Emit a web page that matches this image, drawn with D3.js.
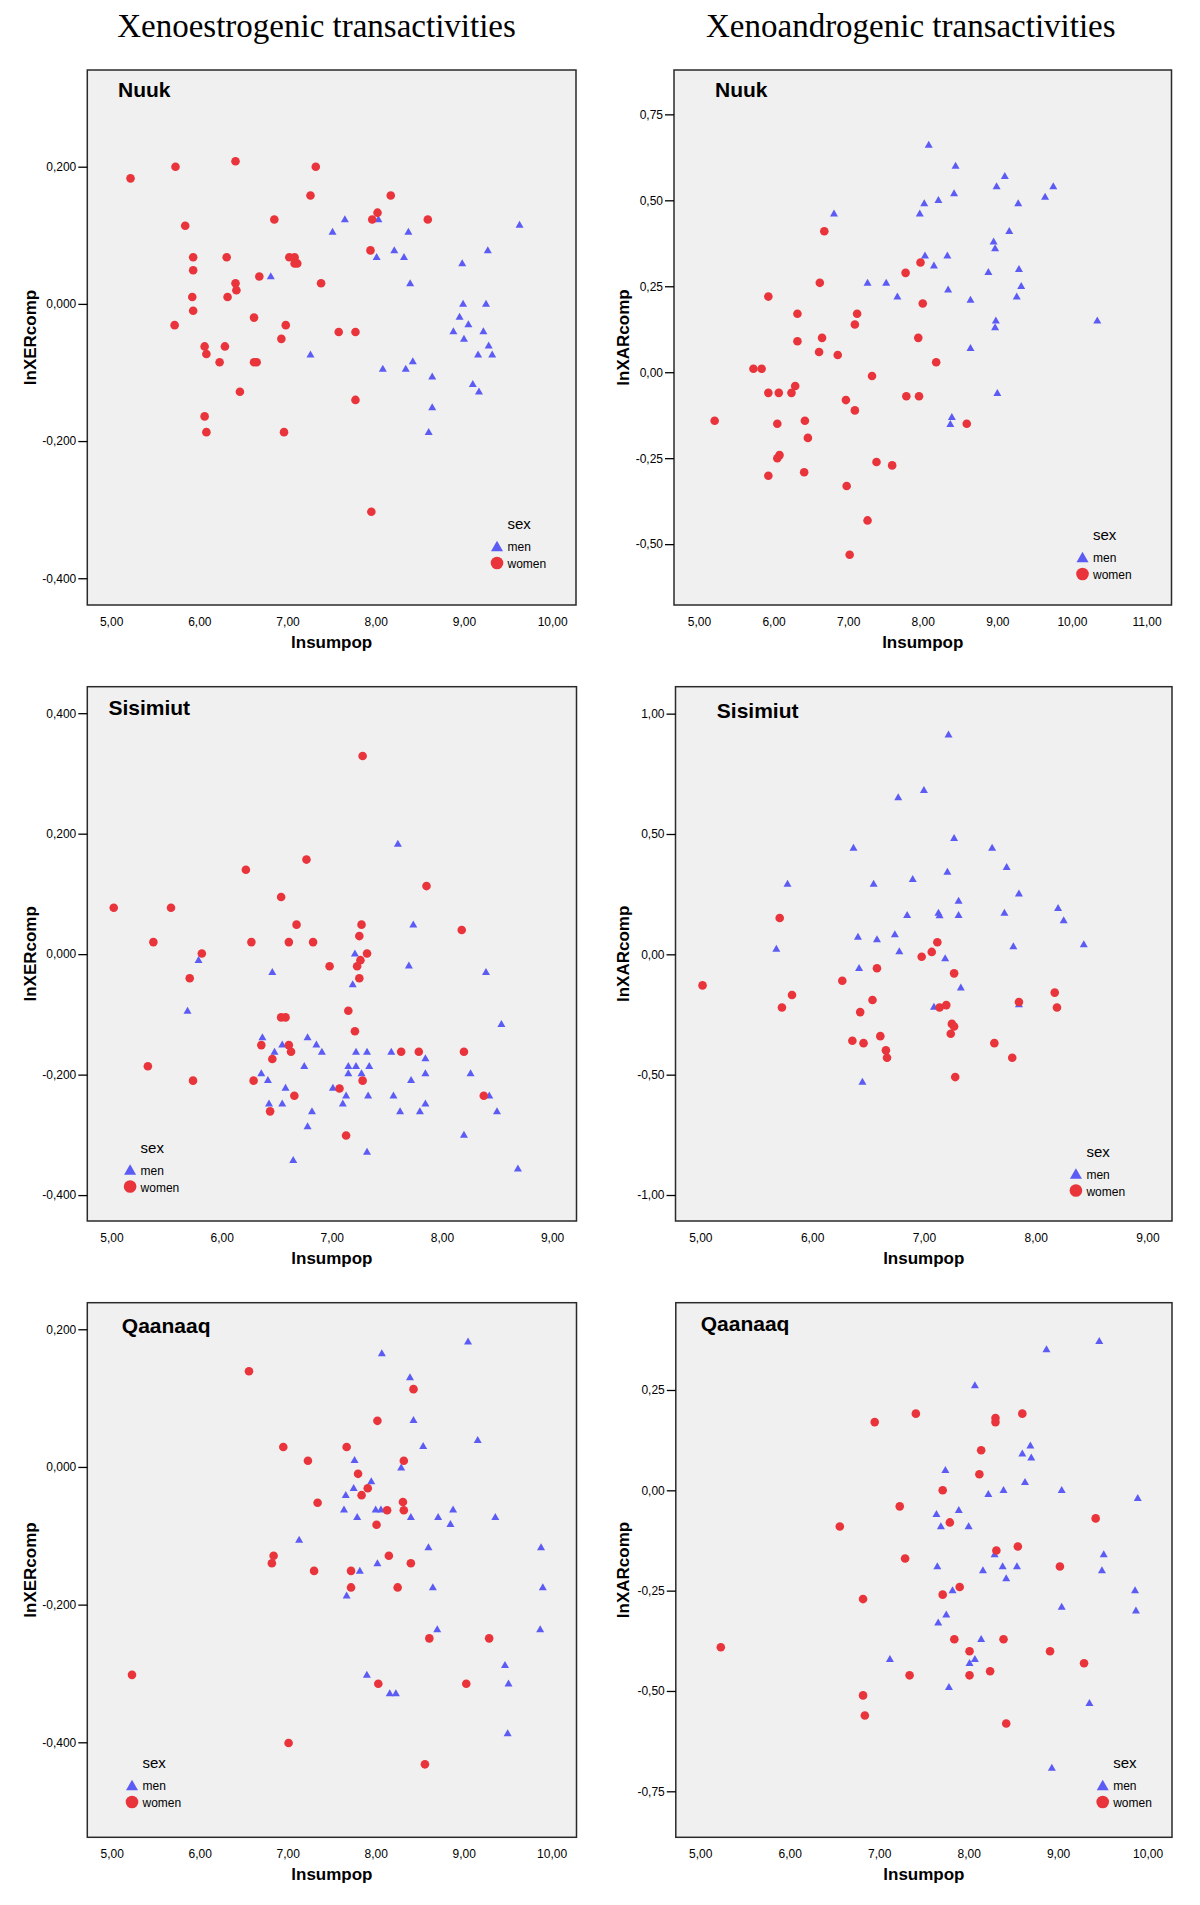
<!DOCTYPE html>
<html><head><meta charset="utf-8">
<script src="https://cdn.jsdelivr.net/npm/d3@7"></script>
<style>body{margin:0;background:#fff}</style>
</head><body>
<svg id="c" width="1200" height="1905"></svg>
<script>
// ---------- data (lnsumpop, ln comp) ----------
const nuukXerWomen = [[5.22,0.183],[5.73,0.200],[6.41,0.208],[7.32,0.200],[7.26,0.158],[8.17,0.158],[5.84,0.114],[6.85,0.123],[8.02,0.133],[7.96,0.123],[8.59,0.123],[7.94,0.078],[5.93,0.068],[6.31,0.068],[7.02,0.068],[7.08,0.068],[7.08,0.059],[7.11,0.059],[5.93,0.049],[6.68,0.040],[6.41,0.030],[7.38,0.030],[6.42,0.020],[5.92,0.010],[6.32,0.010],[5.93,-0.010],[6.62,-0.020],[5.72,-0.031],[6.98,-0.031],[7.58,-0.041],[7.77,-0.041],[6.93,-0.051],[6.06,-0.062],[6.29,-0.062],[6.08,-0.073],[6.23,-0.085],[6.62,-0.085],[6.65,-0.085],[6.46,-0.128],[7.77,-0.140],[6.06,-0.164],[6.08,-0.187],[6.96,-0.187],[7.95,-0.303]];
const nuukXerMen = [[7.65,0.124],[8.03,0.124],[7.51,0.106],[8.37,0.106],[9.63,0.116],[8.21,0.079],[9.27,0.079],[8.01,0.069],[8.32,0.069],[8.98,0.060],[6.81,0.041],[8.39,0.031],[8.99,0.001],[9.25,0.001],[8.95,-0.018],[9.05,-0.029],[8.88,-0.039],[9.22,-0.039],[9.00,-0.050],[9.28,-0.060],[9.16,-0.073],[9.32,-0.073],[7.26,-0.073],[8.08,-0.094],[8.34,-0.094],[8.42,-0.083],[8.64,-0.105],[9.10,-0.116],[9.17,-0.127],[8.64,-0.150],[8.60,-0.186]];
const nuukXarMen = [[8.08,0.663],[8.44,0.602],[9.10,0.572],[8.99,0.542],[9.75,0.542],[9.64,0.512],[8.42,0.522],[8.21,0.502],[8.02,0.493],[9.28,0.493],[6.81,0.463],[7.96,0.463],[9.16,0.412],[8.95,0.382],[8.97,0.362],[8.03,0.341],[8.33,0.341],[8.15,0.312],[9.29,0.302],[8.88,0.293],[7.26,0.262],[7.51,0.262],[9.32,0.252],[8.34,0.242],[7.66,0.222],[9.26,0.222],[8.64,0.212],[10.34,0.152],[8.98,0.152],[8.97,0.132],[8.64,0.072],[9.00,-0.059],[8.39,-0.129],[8.37,-0.149]];
const nuukXarWomen = [[6.68,0.410],[7.97,0.319],[7.77,0.289],[6.62,0.260],[5.93,0.220],[8.00,0.200],[6.32,0.170],[7.12,0.170],[7.09,0.139],[6.32,0.090],[6.65,0.100],[7.94,0.100],[6.61,0.059],[6.86,0.050],[8.18,0.029],[5.73,0.010],[5.84,0.010],[7.32,-0.011],[6.29,-0.040],[5.93,-0.060],[6.07,-0.060],[6.24,-0.060],[7.78,-0.070],[7.95,-0.070],[6.97,-0.081],[7.09,-0.111],[5.21,-0.141],[6.42,-0.141],[6.05,-0.150],[8.59,-0.150],[6.46,-0.191],[6.08,-0.241],[6.05,-0.250],[7.38,-0.261],[7.59,-0.271],[6.41,-0.291],[5.93,-0.301],[6.98,-0.331],[7.26,-0.431],[7.02,-0.531]];
const sisXerWomen = [[7.28,0.329],[6.77,0.157],[6.22,0.140],[7.86,0.113],[6.54,0.095],[5.02,0.077],[5.54,0.077],[6.68,0.049],[7.27,0.049],[8.18,0.040],[7.25,0.030],[5.38,0.020],[6.27,0.020],[6.61,0.020],[6.83,0.020],[5.82,0.001],[7.32,0.001],[7.26,-0.010],[6.98,-0.020],[7.23,-0.020],[5.71,-0.040],[7.25,-0.040],[7.15,-0.094],[6.54,-0.105],[6.58,-0.105],[7.21,-0.128],[6.36,-0.151],[6.61,-0.151],[6.63,-0.162],[7.63,-0.162],[7.79,-0.162],[8.20,-0.162],[6.46,-0.174],[5.33,-0.186],[5.74,-0.210],[6.29,-0.210],[7.28,-0.210],[7.07,-0.223],[6.66,-0.235],[8.38,-0.235],[6.44,-0.261],[7.13,-0.301]];
const sisXerMen = [[7.60,0.184],[7.74,0.050],[7.21,0.002],[5.79,-0.009],[7.70,-0.018],[6.46,-0.029],[8.40,-0.029],[7.19,-0.049],[5.69,-0.093],[8.54,-0.115],[6.37,-0.137],[6.78,-0.137],[6.55,-0.149],[6.86,-0.149],[6.48,-0.161],[6.91,-0.161],[7.22,-0.161],[7.32,-0.161],[7.54,-0.161],[7.85,-0.172],[6.75,-0.185],[7.15,-0.185],[7.22,-0.185],[7.34,-0.185],[6.36,-0.197],[7.15,-0.197],[7.27,-0.197],[7.85,-0.197],[8.26,-0.197],[6.42,-0.208],[7.72,-0.208],[6.58,-0.221],[7.01,-0.221],[7.13,-0.234],[7.33,-0.234],[7.56,-0.234],[8.43,-0.234],[6.43,-0.247],[6.55,-0.247],[7.10,-0.247],[7.85,-0.247],[6.82,-0.260],[7.62,-0.260],[7.80,-0.260],[8.50,-0.260],[6.78,-0.285],[8.20,-0.299],[7.32,-0.327],[6.65,-0.341],[8.69,-0.355]];
const sisXarMen = [[7.22,0.915],[7.00,0.685],[6.77,0.655],[6.37,0.445],[7.27,0.485],[7.61,0.445],[7.74,0.365],[7.21,0.345],[5.78,0.295],[6.55,0.295],[6.90,0.315],[7.85,0.255],[7.31,0.225],[8.20,0.195],[7.13,0.175],[7.14,0.164],[7.72,0.175],[6.85,0.165],[7.31,0.165],[8.25,0.144],[6.41,0.075],[6.58,0.065],[6.74,0.085],[8.43,0.044],[7.80,0.036],[5.68,0.025],[6.78,0.015],[7.19,-0.014],[6.42,-0.055],[7.33,-0.136],[7.09,-0.216],[7.85,-0.205],[6.45,-0.527]];
const sisXarWomen = [[5.71,0.151],[7.12,0.050],[7.07,0.010],[6.98,-0.010],[6.58,-0.058],[7.27,-0.079],[5.02,-0.129],[6.27,-0.110],[5.82,-0.169],[5.73,-0.221],[6.54,-0.190],[6.43,-0.240],[7.14,-0.221],[7.20,-0.211],[7.85,-0.198],[8.17,-0.159],[8.19,-0.221],[7.25,-0.289],[7.27,-0.300],[7.24,-0.330],[6.61,-0.340],[6.36,-0.359],[6.46,-0.369],[7.63,-0.369],[6.66,-0.399],[6.67,-0.430],[7.79,-0.430],[7.28,-0.510]];
const qaaXerWomen = [[6.56,0.139],[8.43,0.113],[8.02,0.067],[6.95,0.029],[7.67,0.029],[7.23,0.009],[8.32,0.009],[7.80,-0.010],[7.91,-0.031],[7.84,-0.041],[7.34,-0.052],[8.31,-0.051],[8.32,-0.063],[8.13,-0.063],[8.01,-0.084],[6.84,-0.129],[8.15,-0.129],[6.82,-0.140],[8.40,-0.140],[7.30,-0.151],[7.72,-0.151],[7.72,-0.175],[8.25,-0.175],[8.61,-0.249],[9.29,-0.249],[5.23,-0.302],[8.03,-0.315],[9.03,-0.315],[7.01,-0.401],[8.56,-0.432]];
const qaaXerMen = [[9.05,0.183],[8.07,0.166],[8.39,0.131],[8.43,0.069],[9.16,0.040],[8.54,0.031],[7.76,0.011],[8.29,0.000],[7.95,-0.020],[7.75,-0.030],[7.66,-0.040],[7.64,-0.061],[8.00,-0.061],[8.06,-0.061],[8.88,-0.061],[7.79,-0.072],[8.40,-0.072],[8.71,-0.072],[9.36,-0.072],[8.85,-0.082],[7.13,-0.105],[8.60,-0.116],[9.88,-0.116],[8.02,-0.139],[7.82,-0.150],[8.65,-0.174],[9.90,-0.174],[7.67,-0.186],[8.70,-0.235],[9.87,-0.235],[9.47,-0.287],[7.90,-0.301],[9.51,-0.314],[8.16,-0.328],[8.23,-0.328],[9.50,-0.386]];
const qaaXarMen = [[9.46,0.373],[8.87,0.353],[8.07,0.263],[8.69,0.113],[8.60,0.093],[8.70,0.083],[7.74,0.052],[8.63,0.022],[8.39,0.002],[9.04,0.002],[8.22,-0.008],[9.89,-0.018],[7.89,-0.048],[7.64,-0.058],[7.69,-0.088],[8.00,-0.088],[8.29,-0.158],[9.51,-0.158],[7.65,-0.188],[8.38,-0.188],[8.54,-0.188],[8.16,-0.198],[9.49,-0.198],[8.42,-0.218],[7.82,-0.248],[9.86,-0.248],[9.04,-0.289],[9.87,-0.298],[7.75,-0.308],[7.66,-0.328],[8.14,-0.369],[7.12,-0.419],[8.07,-0.419],[8.01,-0.429],[7.78,-0.489],[9.35,-0.529],[8.93,-0.690]];
const qaaXarWomen = [[7.41,0.191],[8.60,0.191],[6.95,0.170],[8.30,0.180],[8.30,0.170],[8.14,0.100],[8.12,0.040],[7.71,0.000],[7.23,-0.040],[6.56,-0.090],[7.79,-0.080],[9.42,-0.070],[8.55,-0.140],[8.31,-0.150],[7.29,-0.170],[9.02,-0.190],[7.90,-0.241],[7.71,-0.260],[6.82,-0.271],[7.84,-0.371],[8.39,-0.371],[5.23,-0.391],[8.01,-0.401],[8.91,-0.401],[9.29,-0.431],[8.24,-0.451],[7.34,-0.461],[8.01,-0.461],[6.82,-0.511],[6.84,-0.561],[8.42,-0.581]];

// ---------- tick values ----------
const xTicks5to10 = [5,6,7,8,9,10];
const xTicks5to11 = [5,6,7,8,9,10,11];
const xTicks5to9 = [5,6,7,8,9];
const yTicksNuukXer = [-0.4,-0.2,0,0.2];
const yTicksNuukXar = [-0.5,-0.25,0,0.25,0.5,0.75];
const yTicksSisXer = [-0.4,-0.2,0,0.2,0.4];
const yTicksSisXar = [-1,-0.5,0,0.5,1];
const yTicksQaaXer = [-0.4,-0.2,0,0.2];
const yTicksQaaXar = [-0.75,-0.5,-0.25,0,0.25];

const columnTitles = ["Xenoestrogenic transactivities", "Xenoandrogenic transactivities"];
const legendLabels = ["men", "women"];

// ---------- layout ----------
const RED = "#e9343b", BLUE = "#5c5cf5";
const SANS = "'Liberation Sans', Arial, sans-serif";
const SERIF = "'Liberation Serif', 'Times New Roman', serif";

const panels = [
  {name:"Nuuk", ylab:"lnXERcomp", men:nuukXerMen, women:nuukXerWomen, xd:[4.73,10.27], yd:[-0.439,0.341], xt:xTicks5to10, yt:yTicksNuukXer, dec:3,
   r:[87.3,70,576,605], lab:[118,97], leg:[507.5,529], ylx:35.5},
  {name:"Nuuk", ylab:"lnXARcomp", men:nuukXarMen, women:nuukXarWomen, xd:[4.665,11.335], yd:[-0.677,0.879], xt:xTicks5to11, yt:yTicksNuukXar, dec:2,
   r:[674,70,1171.5,605], lab:[715,97], leg:[1093,540], ylx:629},
  {name:"Sisimiut", ylab:"lnXERcomp", men:sisXerMen, women:sisXerWomen, xd:[4.78,9.222], yd:[-0.443,0.444], xt:xTicks5to9, yt:yTicksSisXer, dec:3,
   r:[87.3,686.7,576.5,1221], lab:[108.4,715], leg:[140.6,1152.5], ylx:35.5},
  {name:"Sisimiut", ylab:"lnXARcomp", men:sisXarMen, women:sisXarWomen, xd:[4.778,9.219], yd:[-1.108,1.112], xt:xTicks5to9, yt:yTicksSisXar, dec:2,
   r:[675.5,686.7,1172,1221], lab:[716.8,718], leg:[1086.4,1156.5], ylx:629},
  {name:"Qaanaaq", ylab:"lnXERcomp", men:qaaXerMen, women:qaaXerWomen, xd:[4.722,10.283], yd:[-0.538,0.2386], xt:xTicks5to10, yt:yTicksQaaXer, dec:3,
   r:[87.3,1302.7,576.5,1837.3], lab:[121.8,1333], leg:[142.5,1768], ylx:35.5},
  {name:"Qaanaaq", ylab:"lnXARcomp", men:qaaXarMen, women:qaaXarWomen, xd:[4.727,10.273], yd:[-0.8646,0.4675], xt:xTicks5to10, yt:yTicksQaaXar, dec:2,
   r:[675.8,1302.7,1172,1837.3], lab:[700.7,1331], leg:[1113.2,1768], ylx:629}
];

const loc = d3.formatLocale({decimal:",", thousands:".", grouping:[3], currency:["",""], minus:"-"});

const svg = d3.select("#c");
svg.append("rect").attr("width",1200).attr("height",1905).attr("fill","#fff");

function txt(g, x, y, s, o) {
  let tr = `translate(${x},${y})`;
  if (o.rot) tr += ` rotate(${o.rot})`;
  return g.append("text").attr("transform", tr)
    .attr("font-family", o.ff || SANS).attr("font-size", o.fs)
    .attr("font-weight", o.fw || "normal").attr("text-anchor", o.anchor || "start")
    .attr("fill", "#000").text(s);
}
function triPath(w, h) { return `M0,${-h/2}L${w/2},${h/2}L${-w/2},${h/2}Z`; }

// column titles
txt(svg, 316.5, 37, columnTitles[0], {fs:33, ff:SERIF, anchor:"middle"});
txt(svg, 910.8, 37, columnTitles[1], {fs:33, ff:SERIF, anchor:"middle"});

panels.forEach(p => {
  const [L,T,R,B] = p.r;
  const g = svg.append("g");
  const x = d3.scaleLinear().domain(p.xd).range([L,R]);
  const y = d3.scaleLinear().domain(p.yd).range([B,T]);

  g.append("rect").attr("x",L).attr("y",T).attr("width",R-L).attr("height",B-T).attr("fill","#f0f0f0");

  // men (triangles)
  g.append("g").selectAll("path").data(p.men).join("path")
    .attr("d", triPath(8,7))
    .attr("transform", d => `translate(${x(d[0])},${y(d[1])})`)
    .attr("fill", BLUE);
  // women (circles)
  g.append("g").selectAll("circle").data(p.women).join("circle")
    .attr("cx", d => x(d[0])).attr("cy", d => y(d[1])).attr("r", 4.3)
    .attr("fill", RED);

  g.append("rect").attr("x",L).attr("y",T).attr("width",R-L).attr("height",B-T)
    .attr("fill","none").attr("stroke","#2a2a2a").attr("stroke-width",1.5);

  // y axis
  const yf = loc.format(`.${p.dec}f`);
  const ya = g.append("g").attr("transform",`translate(${L},0)`)
    .call(d3.axisLeft(y).tickValues(p.yt).tickFormat(yf).tickSize(9).tickSizeOuter(0).tickPadding(2));
  ya.select(".domain").remove();
  ya.selectAll(".tick line").attr("stroke","#000").attr("stroke-width",1.3);
  ya.selectAll(".tick text").attr("font-family",SANS).attr("font-size",12).attr("fill","#000");

  // x axis
  const xf = loc.format(".2f");
  const xa = g.append("g").attr("transform",`translate(0,${B})`)
    .call(d3.axisBottom(x).tickValues(p.xt).tickFormat(xf).tickSize(0).tickSizeOuter(0).tickPadding(12.5));
  xa.select(".domain").remove();
  xa.selectAll(".tick text").attr("font-family",SANS).attr("font-size",12).attr("fill","#000");

  // axis titles
  txt(g, (L+R)/2, B+43, "lnsumpop", {fs:17, fw:"bold", anchor:"middle"});
  txt(g, p.ylx, (T+B)/2, p.ylab, {fs:17, fw:"bold", anchor:"middle", rot:-90});

  // panel label
  txt(g, p.lab[0], p.lab[1], p.name, {fs:21, fw:"bold"});

  // legend
  const [lx, lb] = p.leg;
  txt(g, lx, lb, "sex", {fs:15});
  g.append("path").attr("d", triPath(12,10.5)).attr("transform",`translate(${lx-10.5},${lb+17})`).attr("fill",BLUE);
  txt(g, lx, lb+22, legendLabels[0], {fs:12});
  g.append("circle").attr("cx", lx-10.5).attr("cy", lb+34).attr("r",6.3).attr("fill",RED);
  txt(g, lx, lb+39, legendLabels[1], {fs:12});
});
</script>
</body></html>
